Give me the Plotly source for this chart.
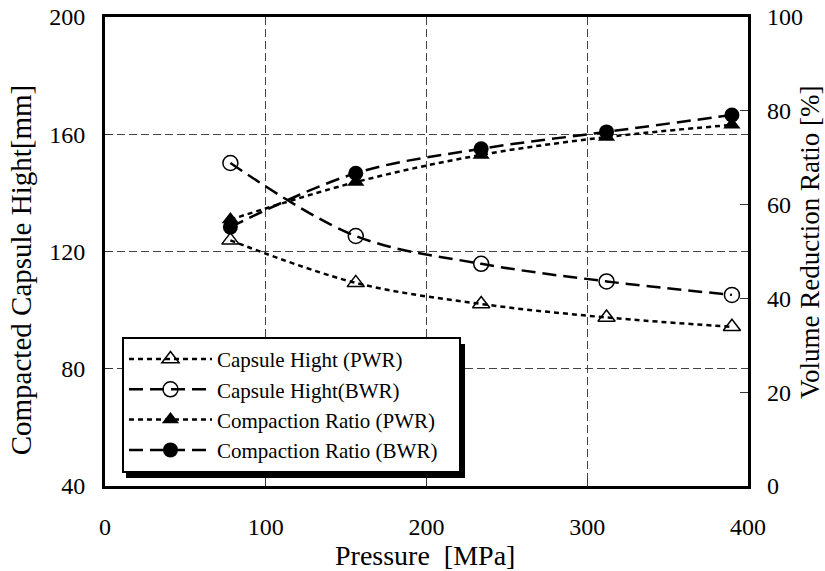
import plotly.graph_objects as go

pressure = [78, 156, 234, 312, 390]
hight_pwr = [123.8, 109.3, 102.1, 97.5, 94.3]
hight_bwr = [150.2, 125.3, 115.8, 109.8, 105.2]
ratio_pwr = [56.8, 64.8, 70.6, 74.4, 77.0]
ratio_bwr = [55.2, 66.7, 71.9, 75.5, 79.1]

x_ticks = [0, 100, 200, 300, 400]
y_ticks = [40, 80, 120, 160, 200]
y2_ticks = [0, 20, 40, 60, 80, 100]

FONT = "Liberation Serif"
SHORT = "5px,4px"
LONG = "14px,7px"
PAD = "\u00a0\u00a0\u00a0"

fig = go.Figure()
fig.add_trace(go.Scatter(
    x=pressure, y=hight_pwr, name="Capsule Hight (PWR)", mode="lines+markers",
    line=dict(color="black", width=2.5, dash=SHORT, shape="spline"),
    marker=dict(symbol="triangle-up-open", size=15, color="black", line=dict(width=1.5))))
fig.add_trace(go.Scatter(
    x=pressure, y=hight_bwr, name="Capsule Hight(BWR)", mode="lines+markers",
    line=dict(color="black", width=2.5, dash=LONG, shape="spline"),
    marker=dict(symbol="circle-open", size=15, color="black", line=dict(width=1.5))))
fig.add_trace(go.Scatter(
    x=pressure, y=ratio_pwr, name="Compaction Ratio (PWR)" + PAD, mode="lines+markers", yaxis="y2",
    line=dict(color="black", width=2.5, dash=SHORT, shape="spline"),
    marker=dict(symbol="triangle-up", size=15, color="black")))
fig.add_trace(go.Scatter(
    x=pressure, y=ratio_bwr, name="Compaction Ratio (BWR)" + PAD, mode="lines+markers", yaxis="y2",
    line=dict(color="black", width=2.5, dash=LONG, shape="spline"),
    marker=dict(symbol="circle", size=15, color="black")))

grid = dict(showgrid=True, gridcolor="#444", gridwidth=1, griddash="8px,4px")
fig.update_layout(
    width=825, height=571,
    margin=dict(l=105, r=77, t=17, b=85, autoexpand=False),
    paper_bgcolor="white", plot_bgcolor="white",
    font=dict(family=FONT, color="black"),
    xaxis=dict(range=[0, 400], tickvals=x_ticks, ticks="inside", ticklen=8, tickcolor="#333",
               showline=True, linewidth=3, linecolor="black", mirror=True, automargin=False,
               tickfont=dict(size=24), ticklabelstandoff=17, zeroline=False, **grid),
    yaxis=dict(range=[40, 200], tickvals=y_ticks, ticks="inside", ticklen=8, tickcolor="#333",
               showline=True, linewidth=3, linecolor="black", mirror=True, automargin=False,
               tickfont=dict(size=24), ticklabelstandoff=12, zeroline=False, **grid),
    yaxis2=dict(range=[0, 100], tickvals=y2_ticks, overlaying="y", side="right", automargin=False,
                ticks="inside", ticklen=8, tickcolor="#333", showgrid=False, zeroline=False,
                tickfont=dict(size=24), ticklabelstandoff=18, showline=False),
    legend=dict(x=0.0264, y=0.318, xanchor="left", yanchor="top",
                bgcolor="white", bordercolor="black", borderwidth=2,
                font=dict(family=FONT, size=21), itemwidth=83, tracegroupgap=0),
    showlegend=True,
    shapes=[dict(type="rect", xref="paper", yref="paper", layer="above",
                 x0=(126 - 105) / 643, x1=(465 - 105) / 643,
                 y0=(486 - 478) / 469, y1=(486 - 344) / 469,
                 fillcolor="black", line=dict(width=0))],
)

fig.add_annotation(text="Pressure  [MPa]", xref="paper", yref="paper", x=0.498, y=-0.148,
                   xanchor="center", yanchor="middle", showarrow=False, font=dict(size=28))
fig.add_annotation(text="Compacted Capsule Hight[mm]", xref="paper", yref="paper", x=-0.1306, y=0.46,
                   xanchor="center", yanchor="middle", textangle=-90, showarrow=False, font=dict(size=29))
fig.add_annotation(text="Volume Reduction Ratio [%]", xref="paper", yref="paper", x=1.0964, y=0.52,
                   xanchor="center", yanchor="middle", textangle=-90, showarrow=False, font=dict(size=27))

fig.write_html("out.html")
